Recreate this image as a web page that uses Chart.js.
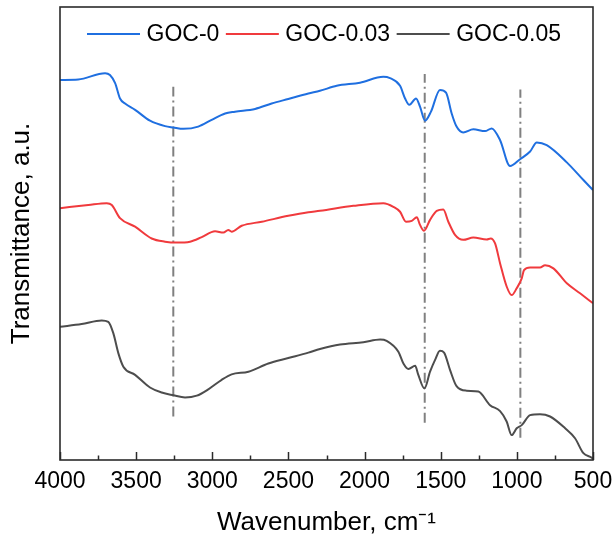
<!DOCTYPE html>
<html>
<head>
<meta charset="utf-8">
<script src="https://cdn.jsdelivr.net/npm/chart.js@4.4.1/dist/chart.umd.min.js"></script>
<style>
  html, body { margin: 0; padding: 0; background: #ffffff; }
  #wrap { width: 616px; height: 543px; position: relative; }
</style>
</head>
<body>
<div id="wrap"><canvas id="c" width="616" height="543"></canvas></div>
<script>
// ---- Data (wavenumber in cm^-1, transmittance in arbitrary offset units) ----
const seriesNames = ['GOC-0', 'GOC-0.03', 'GOC-0.05'];
const seriesColors = ['#1f6fe0', '#f03a3d', '#4d4d4d'];

const goc0Wavenumber = [4000, 3880, 3704, 3672, 3638, 3606, 3573, 3507, 3409, 3310, 3256, 3190, 3092, 3004, 2916, 2851, 2719, 2610, 2501, 2369, 2293, 2183, 2030, 1877, 1833, 1767, 1734, 1706, 1662, 1636, 1603, 1564, 1505, 1465, 1428, 1396, 1352, 1286, 1209, 1165, 1110, 1045, 979, 913, 869, 804, 672, 563, 500];
const goc0Transmittance = [83.9, 84.0, 85.4, 85.0, 83.2, 79.8, 78.7, 77.3, 74.9, 73.7, 73.4, 73.1, 73.6, 75.1, 76.5, 76.9, 77.5, 78.7, 79.7, 80.9, 81.5, 82.6, 83.3, 84.6, 84.3, 82.6, 79.8, 78.4, 79.8, 78.0, 74.9, 76.9, 81.7, 81.1, 76.5, 73.6, 72.3, 73.0, 72.6, 73.2, 70.6, 64.9, 66.4, 68.1, 70.1, 69.5, 65.7, 61.8, 59.6];

const goc003Wavenumber = [4000, 3814, 3693, 3660, 3606, 3507, 3398, 3310, 3234, 3146, 3069, 2982, 2927, 2895, 2873, 2807, 2675, 2501, 2369, 2293, 2074, 1877, 1811, 1767, 1728, 1690, 1657, 1636, 1610, 1570, 1526, 1483, 1450, 1406, 1352, 1286, 1198, 1172, 1143, 1110, 1067, 1034, 1001, 968, 953, 913, 848, 815, 760, 672, 585, 500];
const goc003Transmittance = [55.6, 56.3, 56.7, 56.3, 53.4, 51.5, 48.9, 48.2, 48.0, 48.2, 49.2, 50.5, 50.2, 50.8, 50.4, 51.7, 52.6, 53.9, 54.7, 55.0, 56.1, 56.7, 55.9, 54.8, 52.6, 52.8, 53.6, 51.9, 50.6, 53.0, 55.0, 55.3, 52.6, 49.7, 48.6, 49.1, 48.7, 48.9, 47.8, 43.4, 38.3, 36.4, 37.9, 40.1, 41.9, 42.5, 42.5, 43.0, 42.3, 39.0, 36.8, 34.6];

const goc005Wavenumber = [4000, 3858, 3726, 3683, 3650, 3617, 3584, 3507, 3409, 3332, 3256, 3179, 3102, 3026, 2938, 2873, 2763, 2632, 2501, 2369, 2293, 2161, 2008, 1898, 1855, 1778, 1745, 1712, 1668, 1647, 1607, 1570, 1537, 1505, 1478, 1439, 1396, 1330, 1253, 1176, 1110, 1067, 1034, 1001, 968, 913, 848, 782, 683, 618, 563, 508, 500];
const goc005Transmittance = [29.4, 30.0, 30.8, 30.5, 28.0, 23.6, 20.6, 18.8, 16.0, 14.9, 14.3, 13.8, 14.2, 15.6, 17.7, 18.9, 19.5, 21.3, 22.5, 23.7, 24.5, 25.5, 26.0, 26.6, 26.3, 23.9, 21.3, 20.1, 20.8, 18.8, 15.8, 19.5, 22.1, 24.1, 23.7, 19.9, 16.3, 15.3, 15.1, 12.1, 10.8, 8.5, 5.5, 7.0, 7.7, 9.9, 10.1, 9.6, 7.0, 4.8, 1.5, 0.5, 0.2];

// marker lines (wavenumber, lower and upper extent)
const markerWavenumbers = [3256, 1605, 977];
const markerBottoms = [9.6, 8.2, 4.9];
const markerTops = [82.4, 85.2, 81.8];

const xTickValues = [4000, 3500, 3000, 2500, 2000, 1500, 1000, 500];

// ---- Build datasets ----
function pts(xs, ys) { return xs.map((x, i) => ({ x: x, y: ys[i] })); }
const allWn = [goc0Wavenumber, goc003Wavenumber, goc005Wavenumber];
const allT = [goc0Transmittance, goc003Transmittance, goc005Transmittance];

const datasets = seriesNames.map((name, i) => ({
  label: name,
  data: pts(allWn[i], allT[i]),
  borderColor: seriesColors[i],
  backgroundColor: seriesColors[i],
  borderWidth: 2,
  pointRadius: 0,
  cubicInterpolationMode: 'monotone',
  fill: false,
  isSeries: true
}));

markerWavenumbers.forEach((w, i) => {
  datasets.push({
    label: 'marker' + i,
    data: [{ x: w, y: markerBottoms[i] }, { x: w, y: markerTops[i] }],
    borderColor: '#808080',
    borderWidth: 2,
    borderDash: [10, 4, 2, 4],
    pointRadius: 0,
    fill: false,
    isSeries: false
  });
});

const FONT = "'Liberation Sans', Arial, Helvetica, sans-serif";

// Frame, inward ticks and inline legend
const decorPlugin = {
  id: 'decor',
  afterDatasetsDraw(chart) {
    const ctx = chart.ctx;
    const a = chart.chartArea;
    const xs = chart.scales.x;
    ctx.save();
    // ticks (major 500, minor 250), pointing inward from the bottom axis
    ctx.strokeStyle = '#2b2b2b';
    ctx.lineWidth = 1.5;
    for (let v = 500; v <= 4000; v += 250) {
      const px = Math.round(xs.getPixelForValue(v)) + 0.5;
      const len = (v % 500 === 0) ? 8 : 4.5;
      ctx.beginPath();
      ctx.moveTo(px, a.bottom);
      ctx.lineTo(px, a.bottom - len);
      ctx.stroke();
    }
    // frame
    ctx.lineWidth = 1.6;
    ctx.strokeRect(a.left, a.top, a.right - a.left, a.bottom - a.top);

    // legend
    ctx.font = '23px ' + FONT;
    ctx.textBaseline = 'middle';
    ctx.textAlign = 'left';
    let x = a.left + 27;
    const y = a.top + 27;
    chart.data.datasets.forEach(ds => {
      if (!ds.isSeries) return;
      ctx.strokeStyle = ds.borderColor;
      ctx.lineWidth = 2;
      ctx.beginPath();
      ctx.moveTo(x, y);
      ctx.lineTo(x + 53, y);
      ctx.stroke();
      x += 59.5;
      ctx.fillStyle = '#000';
      ctx.fillText(ds.label, x, y + 1);
      x += ctx.measureText(ds.label).width + 6.5;
    });
    ctx.restore();
  }
};

new Chart(document.getElementById('c'), {
  type: 'line',
  data: { datasets: datasets },
  options: {
    responsive: false,
    animation: false,
    devicePixelRatio: 1,
    layout: { padding: { left: 0, right: 23, top: 7, bottom: 0 } },
    plugins: {
      legend: { display: false },
      tooltip: { enabled: false }
    },
    scales: {
      x: {
        type: 'linear',
        reverse: true,
        min: 500,
        max: 4000,
        afterFit(scale) { scale.height = 83; },
        afterBuildTicks(scale) { scale.ticks = xTickValues.map(v => ({ value: v })); },
        grid: { display: false },
        border: { display: false },
        ticks: {
          autoSkip: false,
          maxRotation: 0,
          padding: 0,
          color: '#000',
          font: { family: FONT, size: 23 },
          callback: (v) => String(v)
        },
        title: {
          display: true,
          text: 'Wavenumber, cm\u207B\u00B9',
          color: '#000',
          font: { family: FONT, size: 26 },
          padding: { top: 0, bottom: 5 }
        }
      },
      y: {
        type: 'linear',
        min: 0,
        max: 100,
        afterFit(scale) { scale.width = 60; },
        grid: { display: false },
        border: { display: false },
        ticks: { display: false },
        title: {
          display: true,
          text: 'Transmittance, a.u.',
          color: '#000',
          font: { family: FONT, size: 26 },
          padding: { top: 6, bottom: 0 }
        }
      }
    }
  },
  plugins: [decorPlugin]
});
</script>
</body>
</html>
